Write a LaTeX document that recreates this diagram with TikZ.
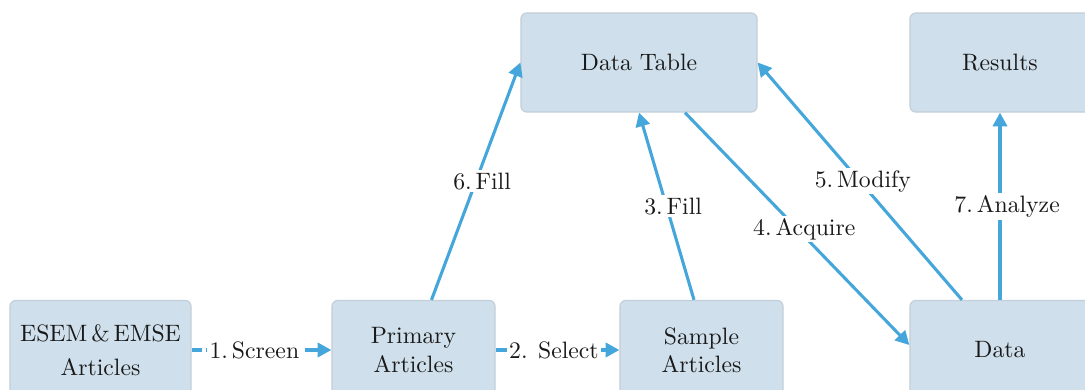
\documentclass[tikz,border=0pt]{standalone}
\usetikzlibrary{arrows.meta,calc}
\definecolor{boxfill}{HTML}{CFE0EC}
\definecolor{boxline}{HTML}{C3CED8}
\definecolor{flow}{HTML}{45A6DC}
\begin{document}
\begin{tikzpicture}[x=0.4219pt,y=-0.4219pt,
  box/.style={draw=boxline, line width=0.5pt, fill=boxfill, rounded corners=2.5pt,
    minimum height=41.8pt, align=center, text=black!90},
  flowline/.style={draw=flow, line width=1.3pt, -{Triangle[length=5.8pt,width=6pt]}},
  dashflow/.style={flowline, dash pattern=on 5.5pt off 1.5pt},
  lbl/.style={fill=white, inner sep=1pt, text=black!90}]
\useasboundingbox (0,0) rectangle (1085,389);

% process stages
\node[box, minimum width=76.4pt] (esem) at (100.5,350) {ESEM\,\&\,EMSE\\[2.5pt]Articles};
\node[box, minimum width=68.8pt] (primary) at (413.5,350) {Primary\\Articles};
\node[box, minimum width=68.8pt] (sample) at (701.5,350) {Sample\\Articles};
\node[box, minimum width=99.6pt] (table) at (639,62.5) {Data Table};
\node[box, minimum width=76pt] (results) at (1000,62.5) {Results};
\node[box, minimum width=76pt] (data) at (1000,350) {Data};

% steps
\draw[dashflow, dash phase=1pt] (esem) -- node[lbl, xshift=-3pt] {1.\,Screen} (primary);
\draw[dashflow] (primary) -- node[lbl, xshift=-1.5pt] {2. Select} (sample);
\draw[flowline] ($(sample.north)+(-7.5,0)$) -- node[lbl, xshift=2.8pt] {3.\,Fill} (table.south);
\draw[flowline] ($(table.south)+(46,0)$) -- node[lbl, xshift=3pt] {4.\,Acquire} ($(data.west)+(0,-5)$);
\draw[flowline] ($(data.north)+(-38,0)$) -- node[lbl, xshift=1.3pt] {5.\,Modify} (table.east);
\draw[flowline] ($(primary.north)+(18,0)$) -- node[lbl, xshift=2.6pt] {6.\,Fill} (table.west);
\draw[flowline] (data) -- node[lbl, xshift=3pt] {7.\,Analyze} (results);
\end{tikzpicture}
\end{document}
